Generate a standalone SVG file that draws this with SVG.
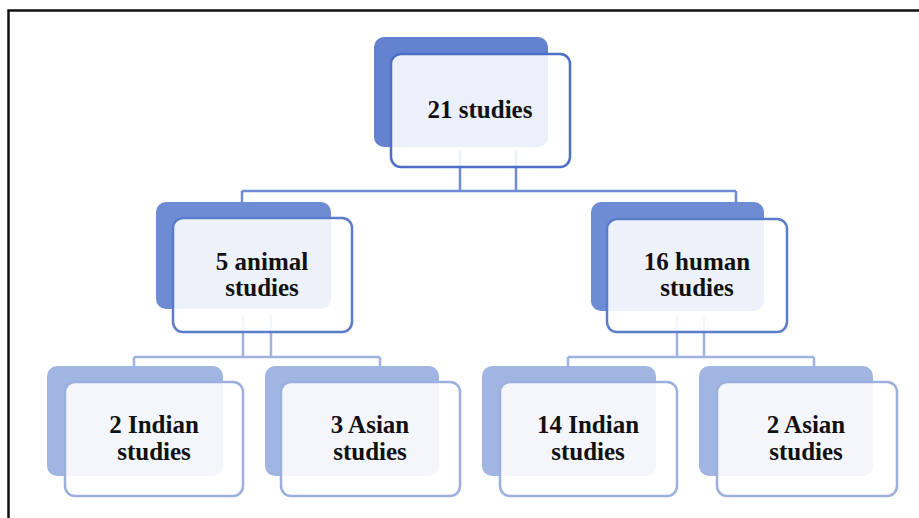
<svg xmlns="http://www.w3.org/2000/svg" width="919" height="518" viewBox="0 0 919 518">
<style>
.bg{fill:#ffffff}
.border{fill:none;stroke:#111111;stroke-width:2.5}
.b1{fill:#6383d0}
.b2{fill:#6e8cd3}
.b3{fill:#a1b5e2}
.f1{fill:#ffffff;fill-opacity:0.88;stroke:#4d6ec4;stroke-width:2.5}
.f2{fill:#ffffff;fill-opacity:0.88;stroke:#5b7ccb;stroke-width:2.5}
.f3{fill:#ffffff;fill-opacity:0.88;stroke:#9cb0de;stroke-width:2.5}
.c1{fill:none;stroke:#6f8cd2;stroke-width:2.5}
.c2{fill:none;stroke:#9fb3e1;stroke-width:2.5}
.t{font-family:'Liberation Serif','DejaVu Serif',serif;font-weight:bold;font-size:25px;fill:#111111;text-anchor:middle}
</style>
<rect class="bg" x="0" y="0" width="919" height="518"/>
<path class="border" d="M8.5,518 V10.5 H919"/>
<g id="connectors">
<path class="c1" d="M460,150 V191 M516,150 V191 M242,191 H736 M242,191 V213 M736,191 V213"/>
<path class="c2" d="M243,315 V357 M271,315 V357 M134,357 H380 M134,357 V377 M380,357 V377"/>
<path class="c2" d="M677,315 V357 M704,315 V357 M568,357 H814 M568,357 V377 M814,357 V377"/>
</g>
<g id="n21">
<rect class="b1" x="374" y="37" width="174" height="110" rx="10"/>
<rect class="f1" x="391" y="54" width="179" height="113" rx="10"/>
<text class="t" x="480" y="118">21 studies</text>
</g>
<g id="animal">
<rect class="b2" x="156" y="202" width="175" height="107" rx="10"/>
<rect class="f2" x="173" y="218" width="179" height="114" rx="10"/>
<text class="t" x="262" y="270">5 animal</text>
<text class="t" x="262" y="296">studies</text>
</g>
<g id="human">
<rect class="b2" x="591" y="202" width="173" height="109" rx="10"/>
<rect class="f2" x="607" y="219" width="180" height="113" rx="10"/>
<text class="t" x="697" y="270">16 human</text>
<text class="t" x="697" y="296">studies</text>
</g>
<g id="indian2">
<rect class="b3" x="47" y="366" width="176" height="110" rx="10"/>
<rect class="f3" x="65" y="382" width="178" height="114" rx="10"/>
<text class="t" x="154" y="433">2 Indian</text>
<text class="t" x="154" y="460">studies</text>
</g>
<g id="asian3">
<rect class="b3" x="265" y="366" width="174" height="110" rx="10"/>
<rect class="f3" x="281" y="382" width="179" height="114" rx="10"/>
<text class="t" x="370" y="433">3 Asian</text>
<text class="t" x="370" y="460">studies</text>
</g>
<g id="indian14">
<rect class="b3" x="482" y="366" width="174" height="110" rx="10"/>
<rect class="f3" x="500" y="382" width="177" height="114" rx="10"/>
<text class="t" x="588" y="433">14 Indian</text>
<text class="t" x="588" y="460">studies</text>
</g>
<g id="asian2">
<rect class="b3" x="699" y="366" width="174" height="110" rx="10"/>
<rect class="f3" x="717" y="382" width="180" height="114" rx="10"/>
<text class="t" x="806" y="433">2 Asian</text>
<text class="t" x="806" y="460">studies</text>
</g>
</svg>
